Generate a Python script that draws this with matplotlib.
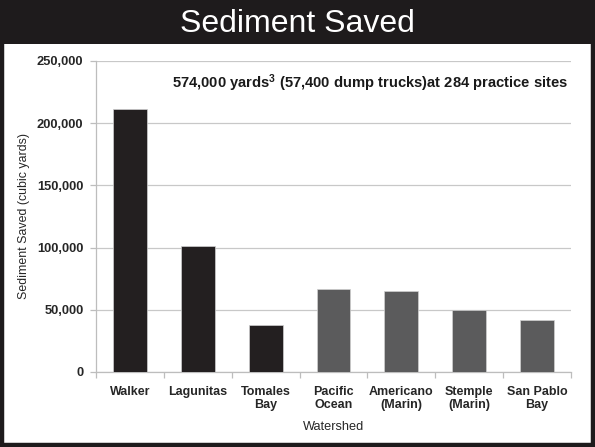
import matplotlib

matplotlib.use("Agg")

import matplotlib.pyplot as plt
from matplotlib.patches import Rectangle
from matplotlib.ticker import FuncFormatter, MultipleLocator

watersheds = ["Walker", "Lagunitas", "Tomales\nBay", "Pacific\nOcean",
              "Americano\n(Marin)", "Stemple\n(Marin)", "San Pablo\nBay"]
sediment_saved = [211000, 101000, 38000, 66500, 65000, 49500, 41500]
first_group = [True, True, True, False, False, False, False]

title = "Sediment Saved"
note = "574,000 yards$^{\\mathregular{3}}$ (57,400 dump trucks)at 284 practice sites"

plt.rcParams.update({
    "font.family": ["Liberation Sans", "DejaVu Sans"],
    "mathtext.default": "regular",
})

fig = plt.figure(figsize=(5.95, 4.47), dpi=100)
fig.patch.set_facecolor("white")

# black header band and frame
fig.add_artist(Rectangle((0, 0.902), 1, 0.098, transform=fig.transFigure,
                         facecolor="#1e1b1c", edgecolor="none", zorder=0))
fig.add_artist(Rectangle((0.003, 0.004), 0.994, 0.993, transform=fig.transFigure,
                         facecolor="none", edgecolor="#1e1b1c", linewidth=3.2, zorder=5))
fig.text(0.5, 0.947, title, color="white", fontsize=23, ha="center", va="center")

ax = fig.add_axes([0.1613, 0.1678, 0.7983, 0.6958])
colors = ["#231f20" if g else "#5b5b5c" for g in first_group]
x = range(len(watersheds))
ax.bar(x, sediment_saved, width=0.5, color=colors, edgecolor="#d0d0d0",
       linewidth=0.5, zorder=3)

ax.set_ylim(0, 250000)
ax.set_xlim(-0.5, len(watersheds) - 0.5)
ax.yaxis.set_major_locator(MultipleLocator(50000))
ax.yaxis.set_major_formatter(FuncFormatter(lambda v, _: f"{int(v):,}"))
ax.grid(axis="y", color="#c8c8c8", linewidth=0.9, zorder=0)

for side in ["top", "right"]:
    ax.spines[side].set_visible(False)
for side in ["left", "bottom"]:
    ax.spines[side].set_color("#bdbdbd")
    ax.spines[side].set_linewidth(0.9)

ax.set_xticks(list(x))
ax.set_xticklabels(watersheds, fontsize=9, fontweight="bold", color="#262626",
                   linespacing=1.1)
ax.set_xticks([i + 0.5 for i in range(-1, len(watersheds))], minor=True)
ax.tick_params(axis="x", which="major", length=0, pad=10)
ax.tick_params(axis="x", which="minor", length=4, color="#bdbdbd", width=0.9)
ax.tick_params(axis="y", length=4, color="#bdbdbd", width=0.9, pad=5,
               labelsize=9.3, labelcolor="#262626")
for lab in ax.get_yticklabels():
    lab.set_fontweight("bold")

ax.set_ylabel("Sediment Saved (cubic yards)", fontsize=8.9, color="#262626", labelpad=5)
ax.set_xlabel("Watershed", fontsize=9.2, color="#262626", labelpad=7)

ax.text(0.995, 0.927, note, transform=ax.transAxes, ha="right", va="center",
        fontsize=10.6, fontweight="bold", color="#1a1a1a")

fig.savefig("out.png", dpi=100)
